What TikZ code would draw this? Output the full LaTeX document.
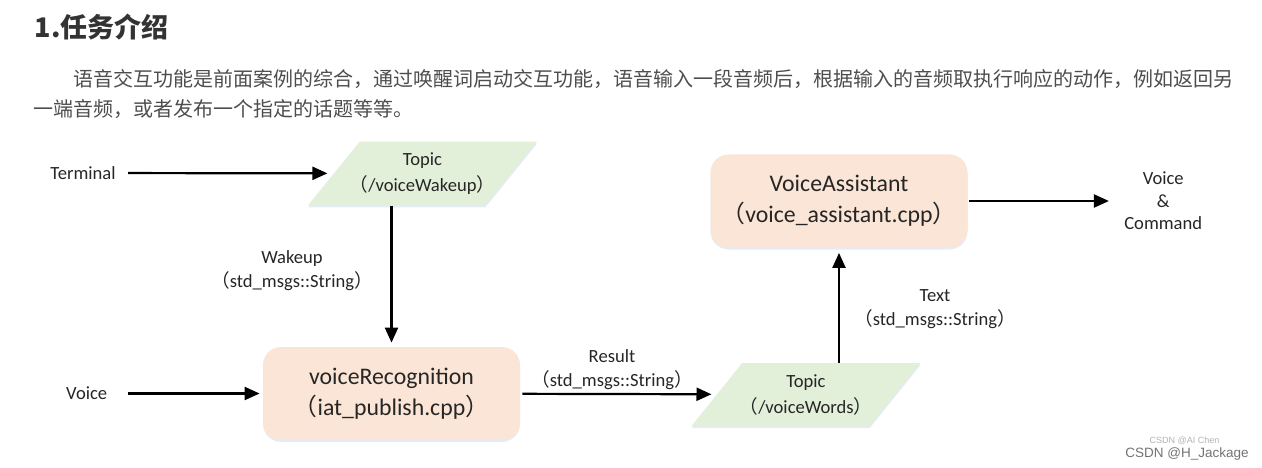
\documentclass[tikz,border=0pt]{standalone}
\usepackage{fontspec}
\setmainfont{Carlito}
\newfontfamily\cjkfont{Noto Sans CJK SC}
\newfontfamily\wmfont{Liberation Sans}
\usetikzlibrary{positioning, shapes.geometric, arrows.meta, shadows}
\definecolor{peach}{HTML}{FBE5D6}
\definecolor{topicgreen}{HTML}{E2EFD9}
\definecolor{glow}{HTML}{DAE3F3}
\definecolor{txt}{HTML}{262626}
\definecolor{headgray}{HTML}{333333}
\definecolor{paragray}{HTML}{4D4D4D}
\newcommand{\fwl}{{\cjkfont （}}
\newcommand{\fwr}{{\cjkfont ）}}

\begin{document}
\begin{tikzpicture}[x=1pt, y=-1pt, thick]
    \useasboundingbox (0,0) rectangle (1262,468);
    % Define block styles
    \tikzstyle{block} = [rectangle, rounded corners=18pt, fill=peach, minimum width=257pt, minimum height=93pt, align=center, text=txt, font=\fontsize{23.8}{31}\selectfont, drop shadow={shadow xshift=0pt, shadow yshift=-2pt, fill=glow, opacity=0.7}]
    \tikzstyle{topic} = [trapezium, trapezium left angle=51, trapezium right angle=129, trapezium stretches body=true, fill=topicgreen, minimum width=229pt, minimum height=63pt, inner xsep=-10pt, inner ysep=11pt, align=center, text=txt, font=\fontsize{18.6}{26}\selectfont, drop shadow={shadow xshift=0pt, shadow yshift=-2pt, fill=glow, opacity=0.7}]
    \tikzstyle{tag} = [align=center, inner sep=2pt, text=txt, font=\fontsize{18.6}{24}\selectfont]
    \tikzstyle{link} = [-{Triangle[length=15pt, width=13pt]}, line width=2.2pt]
    % Heading and intro text
    \node[anchor=west, text=headgray, font=\fontsize{27}{27}\selectfont\cjkfont\bfseries] (title) at (31,27) {1.任务介绍};
    \node[anchor=west, text=paragray, font=\fontsize{20}{20}\selectfont\cjkfont] (intro1) at (70,79) {语音交互功能是前面案例的综合，通过唤醒词启动交互功能，语音输入一段音频后，根据输入的音频取执行响应的动作，例如返回另};
    \node[anchor=west, text=paragray, font=\fontsize{20}{20}\selectfont\cjkfont] (intro2) at (30,109) {一端音频，或者发布一个指定的话题等等。};
    % Blocks and nodes
    \node[topic] (wake) at (422.5,173.5) {Topic\\\fwl/voiceWakeup\fwr};
    \node[block] (rec) at (391.5,393.5) {voiceRecognition\\\fwl iat\_publish.cpp\fwr};
    \node[topic] (words) at (806,394.5) {Topic\\\fwl/voiceWords\fwr};
    \node[block] (va) at (839,201) {VoiceAssistant\\\fwl voice\_assistant.cpp\fwr};
    \node[tag] (term) at (83,173) {Terminal};
    \node[tag, left=153pt of rec] (voice) {Voice};
    \node[tag, right=154pt of va, font=\fontsize{18.6}{22.5}\selectfont] (out) {Voice\\\&\\Command};
    \node[tag] (wakemsg) at (292,271) {Wakeup\\\fwl std\_msgs::String\fwr};
    \node[tag] (resmsg) at (612,370) {Result\\\fwl std\_msgs::String\fwr};
    \node[tag] (textmsg) at (935,309) {Text\\\fwl std\_msgs::String\fwr};
    % Watermark
    \node[anchor=base, text=black!30, font=\wmfont\fontsize{9}{9}\selectfont] (wm1) at (1184.5,443) {CSDN @AI Chen};
    \node[anchor=base, text=black!55, font=\wmfont\fontsize{13.5}{13.5}\selectfont] (wm2) at (1187,457) {CSDN @H\_Jackage};

    % Connections
    \draw[link, shorten <=10pt, shorten >=6pt] (term) -- (wake);
    \draw[link, shorten >=4pt] (wake.south -| rec.north) -- (rec.north);
    \draw[link, shorten <=18pt, shorten >=3pt] (voice) -- (rec);
    \draw[link, shorten <=2pt, shorten >=5pt] (rec) -- (words);
    \draw[link, shorten >=5pt] (words.north -| va.south) -- (va.south);
    \draw[link, shorten <=1pt, shorten >=13pt] (va) -- (out);
\end{tikzpicture}
\end{document}
